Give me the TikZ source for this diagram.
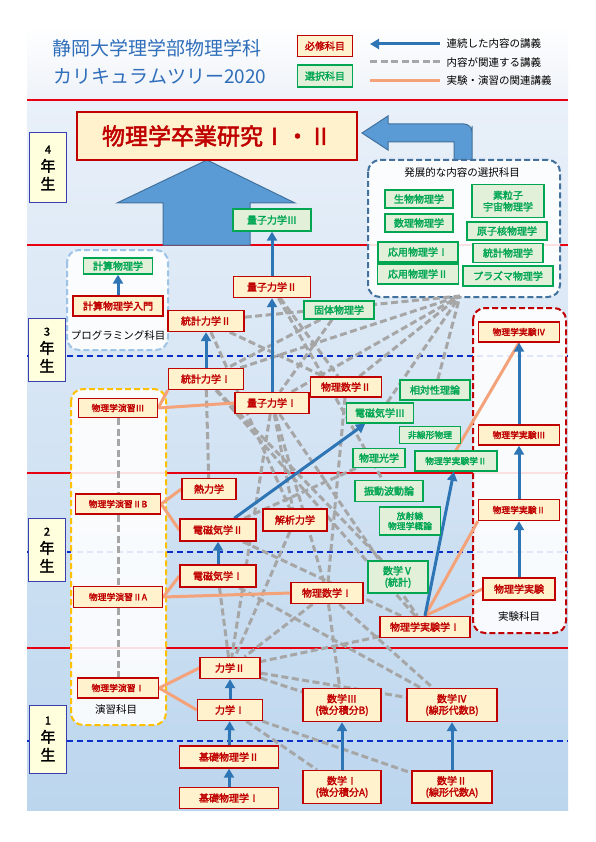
\documentclass[tikz,border=0pt]{standalone}
\usepackage{fontspec}
\setmainfont{Noto Sans CJK JP}[AutoFakeBold=2.2]
\usetikzlibrary{arrows.meta, positioning, calc}

\definecolor{reqred}{HTML}{C00000}
\definecolor{reqfill}{HTML}{FFF2CC}
\definecolor{elegreen}{HTML}{00A651}
\definecolor{elefill}{HTML}{E2F0D9}
\definecolor{seqblue}{HTML}{2E75B6}
\definecolor{relgray}{HTML}{A6A6A6}
\definecolor{labor}{HTML}{F4A27A}
\definecolor{linered}{HTML}{E60012}
\definecolor{halfblue}{HTML}{0A2FC8}
\definecolor{titleblue}{HTML}{2F6EBA}
\definecolor{yearblue}{HTML}{3A3FB0}
\definecolor{yearfill}{HTML}{FFFFDD}
\definecolor{bigblue}{HTML}{5B9BD5}
\definecolor{bigedge}{HTML}{41719C}
\definecolor{progblue}{HTML}{9DC3E6}
\definecolor{exyellow}{HTML}{FFC000}
\definecolor{bgtop}{HTML}{E9F0F9}
\definecolor{bgbottom}{HTML}{BCD6EE}
\definecolor{headtop}{HTML}{FFFFFF}
\definecolor{headbottom}{HTML}{EEF2F8}

\pgfdeclarelayer{back}
\pgfdeclarelayer{links}
\pgfsetlayers{back,links,main}

\begin{document}
\begin{tikzpicture}[
    x=1pt, y=-1pt,
    every node/.style={font=\fontsize{9}{11}\selectfont},
    req/.style={draw=reqred, fill=reqfill, line width=1.4pt, text=reqred,
        font=\fontsize{10}{11.5}\selectfont\bfseries, inner sep=2pt,
        minimum height=20pt, align=center},
    ele/.style={draw=elegreen, fill=elefill, line width=1.4pt, text=elegreen,
        font=\fontsize{10}{11.5}\selectfont\bfseries, inner sep=2pt,
        minimum height=18pt, align=center},
    small/.style={font=\fontsize{8.8}{10}\selectfont\bfseries},
    yearbox/.style={draw=yearblue, fill=yearfill, line width=1pt, minimum width=37pt,
        align=center, font=\fontsize{15}{18}\selectfont\bfseries},
    group/.style={line width=2pt, rounded corners=12pt, fill=white,
        fill opacity=0.88, dash pattern=on 6pt off 3pt},
    seq/.style={draw=seqblue, line width=3pt, -{Triangle[length=9pt, width=10pt]}},
    rel/.style={draw=relgray, line width=3pt, dash pattern=on 7pt off 3.5pt},
    labln/.style={draw=labor, line width=3pt},
    yearln/.style={draw=linered, line width=2.5pt},
    halfln/.style={draw=halfblue, line width=1.6pt, dash pattern=on 6pt off 4pt},
    keytext/.style={anchor=west, font=\fontsize{10.5}{12}\selectfont}
]
\useasboundingbox (0,0) rectangle (596,842);

% Background, year lines and course groups
\begin{pgfonlayer}{back}
    \fill[white] (0,0) rectangle (596,842);
    \shade[top color=headtop, bottom color=headbottom] (27,25) rectangle (568,100);
    \shade[top color=bgtop, bottom color=bgbottom] (27,100) rectangle (568,810);
    \foreach \yy in {100,245,473,648} \draw[yearln] (27,\yy) -- (568,\yy);
    \foreach \yy in {356,552,741} \draw[halfln] (27,\yy) -- (568,\yy);
    % big arrow into the thesis
    \draw[fill=bigblue, draw=bigedge, line width=1pt]
        (207,160) -- (295,203) -- (250,203) -- (250,245) -- (163,245) -- (163,203)
        -- (117,203) -- cycle;
    % arrow from the advanced electives
    \draw[fill=bigblue, draw=bigedge, line width=1pt]
        (362,133) -- (388,116) -- (388,124) -- (462,124)
        [rounded corners=8pt] -- (472,124) -- (472,134) [sharp corners] -- (472,160)
        -- (454,160) -- (454,142) -- (388,142) -- (388,150) -- cycle;
    \draw[group, draw=bigedge] (368,160) rectangle (560,297);
    \draw[group, draw=progblue] (67,250) rectangle (168,350);
    \draw[group, draw=exyellow] (71,389) rectangle (166,725);
    \draw[group, draw=reqred] (473,308) rectangle (566,633);
\end{pgfonlayer}

% Title and legend
\node[text=titleblue, font=\fontsize{19}{21}\selectfont] (ttla) at (157,48) {静岡大学理学部物理学科};
\node[text=titleblue, font=\fontsize{19}{21}\selectfont] (ttlb) at (160,76) {カリキュラムツリー2020};
\node[req, minimum width=55pt, minimum height=21pt] (keyreq) at (325,46) {必修科目};
\node[ele, minimum width=55pt, minimum height=22pt] (keyele) at (325,76) {選択科目};
\coordinate (kseqa) at (440,44);
\coordinate (kseqb) at (370,44);
\coordinate (krela) at (370,62);
\coordinate (krelb) at (440,62);
\coordinate (klaba) at (370,81);
\coordinate (klabb) at (440,81);
\node[keytext] (kseqt) at (443,44) {連続した内容の講義};
\node[keytext] (krelt) at (443,62) {内容が関連する講義};
\node[keytext] (klabt) at (443,81) {実験・演習の関連講義};

% Year labels
\node[yearbox, minimum height=70pt] (yr4) at (48,168) {{\fontsize{11}{12}\selectfont 4}\\年\\生};
\node[yearbox, minimum height=63pt] (yr3) at (47,350) {{\fontsize{11}{12}\selectfont 3}\\年\\生};
\node[yearbox, minimum height=63pt] (yr2) at (47,550) {{\fontsize{11}{12}\selectfont 2}\\年\\生};
\node[yearbox, minimum height=68pt] (yr1) at (48,739) {{\fontsize{11}{12}\selectfont 1}\\年\\生};

% 4th year
\node[req, minimum width=280pt, minimum height=48pt, line width=2pt,
      font=\fontsize{23}{25}\selectfont\bfseries] (thesis) at (217,136) {物理学卒業研究Ⅰ・Ⅱ};
\node[ele, minimum width=78pt, minimum height=22pt] (qm3) at (272,220) {量子力学Ⅲ};
\node[font=\fontsize{10.5}{12}\selectfont] (advtitle) at (462,173) {発展的な内容の選択科目};
\node[ele, minimum width=68pt] (bio) at (419,199) {生物物理学};
\node[ele, minimum width=72pt, minimum height=33pt] (cosmo) at (508,201) {素粒子\\宇宙物理学};
\node[ele, minimum width=68pt] (mathphys) at (419,223) {数理物理学};
\node[ele, minimum width=80pt] (nucl) at (507,231) {原子核物理学};
\node[ele, minimum width=80pt, minimum height=20pt] (appl1) at (418,252) {応用物理学Ⅰ};
\node[ele, minimum width=70pt, minimum height=19pt] (statphys) at (508,253) {統計物理学};
\node[ele, minimum width=81pt, minimum height=20pt] (appl2) at (418,274) {応用物理学Ⅱ};
\node[ele, minimum width=90pt, minimum height=20pt] (plasma) at (508,276) {プラズマ物理学};
\coordinate (advfoot) at (460,296);

% 3rd year
\node[ele, minimum width=69pt, minimum height=16pt] (comp) at (118,266) {計算物理学};
\node[req, minimum width=90pt, minimum height=20pt] (compin) at (118,306) {計算物理学入門};
\node[font=\fontsize{10.5}{12}\selectfont] (proglbl) at (118,335) {プログラミング科目};
\node[req, minimum width=77pt, minimum height=21pt] (qm2) at (272,287) {量子力学Ⅱ};
\node[req, minimum width=76pt, minimum height=21pt] (sm2) at (206,321) {統計力学Ⅱ};
\node[ele, minimum width=70pt] (solid) at (339,310) {固体物理学};
\node[req, minimum width=75pt, minimum height=21pt] (sm1) at (206,379) {統計力学Ⅰ};
\node[req, small, minimum width=79pt, minimum height=19pt] (ex3) at (118,408) {物理学演習Ⅲ};
\node[req, minimum width=74pt, minimum height=21pt] (qm1) at (272,403) {量子力学Ⅰ};
\node[req, minimum width=71pt, minimum height=20pt] (pm2) at (346,387) {物理数学Ⅱ};
\node[ele, minimum width=70pt, minimum height=20pt] (relat) at (435,390) {相対性理論};
\node[ele, minimum width=67pt, minimum height=20pt] (em3) at (380,413) {電磁気学Ⅲ};
\node[ele, small, minimum width=61pt, minimum height=17pt] (nonlin) at (430,435) {非線形物理};
\node[ele, minimum width=52pt, minimum height=19pt] (optics) at (379,458) {物理光学};
\node[ele, small, minimum width=82pt, minimum height=20pt] (lab2) at (456,461) {物理学実験学Ⅱ};
\node[req, small, minimum width=81pt, minimum height=20pt] (exp4) at (519,332) {物理学実験Ⅳ};
\node[req, small, minimum width=81pt, minimum height=20pt] (exp3) at (519,435) {物理学実験Ⅲ};

% 2nd year
\node[req, minimum width=54pt, minimum height=21pt] (thermo) at (209,489) {熱力学};
\node[req, small, minimum width=85pt, minimum height=20pt] (ex2b) at (118,504) {物理学演習ⅡB};
\node[req, minimum width=76pt, minimum height=22pt] (em2) at (218,530) {電磁気学Ⅱ};
\node[req, minimum width=64pt, minimum height=22pt] (ana) at (295,520) {解析力学};
\node[ele, minimum width=68pt, minimum height=21pt] (wave) at (389,491) {振動波動論};
\node[ele, small, minimum width=61pt, minimum height=28pt] (rad) at (410,521) {放射線\\物理学概論};
\node[req, minimum width=76pt, minimum height=22pt] (em1) at (218,576) {電磁気学Ⅰ};
\node[req, small, minimum width=89pt, minimum height=21pt] (ex2a) at (118,597) {物理学演習ⅡA};
\node[req, minimum width=72pt, minimum height=21pt] (pm1) at (327,593) {物理数学Ⅰ};
\node[ele, minimum width=60pt, minimum height=32pt] (math5) at (398,577) {数学Ⅴ\\(統計)};
\node[req, minimum width=90pt, minimum height=21pt] (lab1) at (425,627) {物理学実験学Ⅰ};
\node[req, small, minimum width=81pt, minimum height=21pt] (exp2) at (519,510) {物理学実験Ⅱ};
\node[req, minimum width=72pt, minimum height=22pt] (exp1) at (519,589) {物理学実験};
\node[font=\fontsize{10.5}{12}\selectfont] (lablbl) at (519,617) {実験科目};

% 1st year
\node[req, minimum width=60pt, minimum height=21pt] (mech2) at (230,668) {力学Ⅱ};
\node[req, small, minimum width=81pt, minimum height=20pt] (ex1) at (118,688) {物理学演習Ⅰ};
\node[font=\fontsize{10.5}{12}\selectfont] (exlbl) at (116,710) {演習科目};
\node[req, minimum width=65pt, minimum height=21pt] (mech1) at (230,710) {力学Ⅰ};
\node[req, minimum width=78pt, minimum height=33pt] (math3) at (342,705) {数学Ⅲ\\(微分積分B)};
\node[req, minimum width=90pt, minimum height=33pt] (math4) at (452,705) {数学Ⅳ\\(線形代数B)};
\node[req, minimum width=99pt, minimum height=22pt] (bp2) at (229,757) {基礎物理学Ⅱ};
\node[req, minimum width=99pt, minimum height=21pt] (bp1) at (229,798) {基礎物理学Ⅰ};
\node[req, minimum width=78pt, minimum height=33pt] (math1) at (342,787) {数学Ⅰ\\(微分積分A)};
\node[req, minimum width=80pt, minimum height=32pt] (math2) at (452,787) {数学Ⅱ\\(線形代数A)};

\begin{pgfonlayer}{links}
    % Related content (gray dashed)
    \foreach \a/\b in {qm2/pm2, qm2/wave, solid/qm1, solid/sm1, sm2/ana, sm2/pm2,
        sm1/thermo, sm1/math5, sm1/lab1, qm1/ana, qm1/lab1, qm1/mech2, qm1/pm1,
        pm2/pm1, pm1/math3, em2/optics, em2/lab1, em1/mech2, em1/math4,
        ana/mech2, pm1/mech2, lab1/mech2, pm1/math4, mech2/math3, mech2/math4,
        mech1/math1, mech1/math2, ex3/ex2b, ex2b/ex2a, ex2a/ex1}
        \draw[rel] (\a) -- (\b);
    \foreach \a in {sm1, sm2, qm1, pm2, em3, relat}
        \draw[rel] (\a) -- (advfoot);
    \draw[rel] (krela) -- (krelb);

    % Experiment and exercise links (orange)
    \draw[labln] (ex3.east) -- (sm1.south west);
    \draw[labln] (ex3.east) -- (qm1.west);
    \draw[labln] (ex2b.east) -- (thermo.west);
    \draw[labln] (ex2b.east) -- (em2.west);
    \draw[labln] (ex2a.east) -- (em1.west);
    \draw[labln] (ex2a.east) -- (pm1.west);
    \draw[labln] (ex1.east) -- (mech2.west);
    \draw[labln] (ex1.east) -- (mech1.west);
    \draw[labln] (lab2.north) -- (exp4.south);
    \draw[labln] (lab1.north) -- (exp2.south west);
    \draw[labln] (lab1.north) -- (exp1.west);
    \draw[labln] (klaba) -- (klabb);

    % Continued content (blue arrows)
    \draw[seq] (kseqa) -- (kseqb);
    \draw[seq] (qm2) -- (qm3);
    \draw[seq] (qm1) -- (qm2);
    \draw[seq] (sm1) -- (sm2);
    \draw[seq] (compin) -- (comp);
    \draw[seq] (em1) -- (em2);
    \draw[seq] (em2) -- (em3);
    \draw[seq] (lab1.north) -- (lab2);
    \draw[seq] (exp1) -- (exp2);
    \draw[seq] (exp2) -- (exp3);
    \draw[seq] (exp3) -- (exp4);
    \draw[seq] (bp1) -- (bp2);
    \draw[seq] (bp2) -- (mech1);
    \draw[seq] (mech1) -- (mech2);
    \draw[seq] (math1) -- (math3);
    \draw[seq] (math2) -- (math4);
\end{pgfonlayer}

\end{tikzpicture}
\end{document}
